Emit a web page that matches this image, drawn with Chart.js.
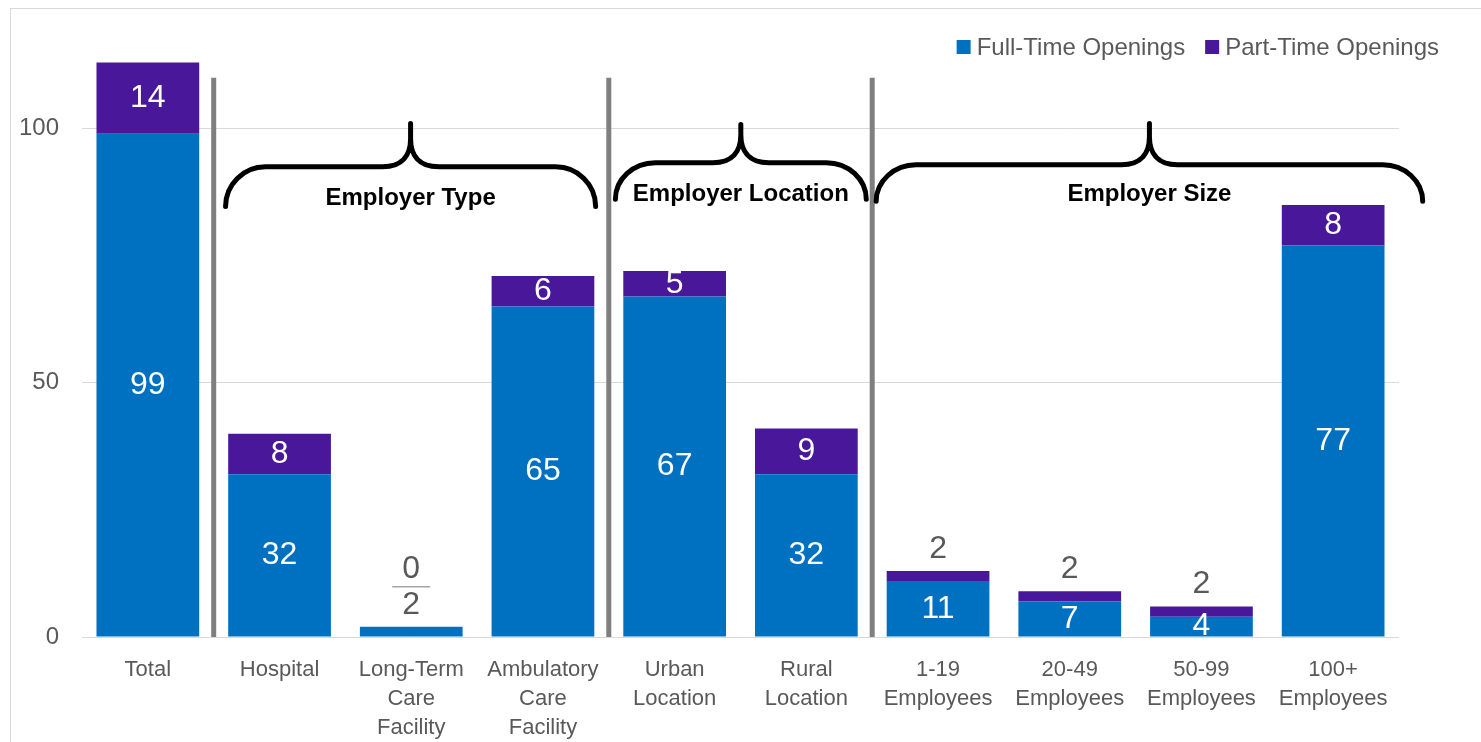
<!DOCTYPE html>
<html>
<head>
<meta charset="utf-8">
<title>Openings by employer group</title>
<script src="https://cdn.jsdelivr.net/npm/chart.js@4.4.0/dist/chart.umd.min.js"></script>
<style>
  html, body { margin: 0; padding: 0; background: #fff; overflow: hidden; }
  #frame { position: absolute; left: 10px; top: 8px; width: 1500px; height: 760px; border: 1px solid #d9d9d9; }
  #box { position: absolute; left: 0; top: 0; width: 1470px; height: 733px; }
</style>
</head>
<body>
<div id="frame"><div id="box"><canvas id="openingsChart"></canvas></div></div>
<script>
// values
const categories = [
  ["Total"], ["Hospital"], ["Long-Term", "Care", "Facility"], ["Ambulatory", "Care", "Facility"],
  ["Urban", "Location"], ["Rural", "Location"],
  ["1-19", "Employees"], ["20-49", "Employees"], ["50-99", "Employees"], ["100+", "Employees"]
];
const fullTimeOpenings = [99, 32, 2, 65, 67, 32, 11, 7, 4, 77];
const partTimeOpenings = [14, 8, 0, 6, 5, 9, 2, 2, 2, 8];
const yTicks = [0, 50, 100];

// category groups shown with a brace, and the dividers between groups
const groupNames = ["Employer Type", "Employer Location", "Employer Size"];
const groupRanges = [[1, 3], [4, 5], [6, 9]];
const dividerAfter = [0, 3, 5];

const FONT = '"Liberation Sans", Arial, sans-serif';
const GREY = '#595959';

const dividerPlugin = {
  id: 'dividers',
  beforeDatasetsDraw(chart, args, opts) {
    const { ctx, scales: { x, y } } = chart;
    ctx.save();
    ctx.strokeStyle = opts.color;
    ctx.lineWidth = opts.width;
    dividerAfter.forEach(i => {
      const px = x.getPixelForValue(i + 0.5);
      ctx.beginPath();
      ctx.moveTo(px, y.getPixelForValue(opts.top));
      ctx.lineTo(px, y.getPixelForValue(0));
      ctx.stroke();
    });
    ctx.restore();
  }
};

const bracePlugin = {
  id: 'braces',
  afterDatasetsDraw(chart, args, opts) {
    const { ctx, scales: { x, y } } = chart;
    ctx.save();
    ctx.strokeStyle = '#000';
    ctx.lineWidth = 5;
    ctx.lineCap = 'round';
    ctx.lineJoin = 'round';
    groupRanges.forEach(([from, to], g) => {
      const s = opts.shape[g];
      const x0 = x.getPixelForValue(from + s.left);
      const x1 = x.getPixelForValue(to + s.right);
      const xc = (x0 + x1) / 2;
      const tip = y.getPixelForValue(s.tip);
      const bar = y.getPixelForValue(s.bar);
      const peak = y.getPixelForValue(s.peak);
      const r = 40, k = 0.552, h = tip - bar;

      ctx.beginPath();
      ctx.moveTo(x0, tip);
      ctx.bezierCurveTo(x0, tip - k * h, x0 + r - k * r, bar, x0 + r, bar);
      ctx.lineTo(xc - 28, bar);
      ctx.bezierCurveTo(xc - 8, bar, xc, bar - 12, xc, bar - 28);
      ctx.lineTo(xc, peak);
      ctx.moveTo(xc, bar - 28);
      ctx.bezierCurveTo(xc, bar - 12, xc + 8, bar, xc + 28, bar);
      ctx.lineTo(x1 - r, bar);
      ctx.bezierCurveTo(x1 - r + k * r, bar, x1, tip - k * h, x1, tip);
      ctx.stroke();

      ctx.fillStyle = '#000';
      ctx.font = 'bold 24px ' + FONT;
      ctx.textAlign = 'center';
      ctx.textBaseline = 'alphabetic';
      ctx.fillText(groupNames[g], xc, y.getPixelForValue(s.text));
    });
    ctx.restore();
  }
};

const segmentLabelPlugin = {
  id: 'segmentLabels',
  afterDatasetsDraw(chart) {
    const { ctx, chartArea } = chart;
    const ftBars = chart.getDatasetMeta(0).data;
    const ptBars = chart.getDatasetMeta(1).data;
    ctx.save();
    ctx.font = '32px ' + FONT;
    ctx.textAlign = 'center';
    ctx.textBaseline = 'middle';
    categories.forEach((c, i) => {
      const top = ptBars[i].y;
      let stacked = 0;
      [[ftBars[i], fullTimeOpenings[i]], [ptBars[i], partTimeOpenings[i]]].forEach(([bar, v]) => {
        if (v >= 3) {
          ctx.save();
          ctx.beginPath();
          ctx.rect(chartArea.left, chartArea.top, chartArea.right - chartArea.left, chartArea.bottom - chartArea.top);
          ctx.clip();
          ctx.fillStyle = '#fff';
          ctx.fillText(String(v), bar.x, (bar.y + bar.base) / 2);
          ctx.restore();
        } else {
          const ly = top - 22 - stacked * 36;
          if (stacked > 0) {
            ctx.strokeStyle = '#a6a6a6';
            ctx.lineWidth = 1.5;
            ctx.beginPath();
            ctx.moveTo(bar.x - 19, ly + 18);
            ctx.lineTo(bar.x + 19, ly + 18);
            ctx.stroke();
          }
          ctx.fillStyle = GREY;
          ctx.fillText(String(v), bar.x, ly);
          stacked++;
        }
      });
    });
    ctx.restore();
  }
};

const legendPlugin = {
  id: 'cornerLegend',
  afterDraw(chart, args, opts) {
    const { ctx, chartArea } = chart;
    ctx.save();
    ctx.font = '24px ' + FONT;
    const items = chart.data.datasets.map(d => ({
      label: d.label, color: d.backgroundColor, w: ctx.measureText(d.label).width
    }));
    const box = 14, gap = 6, spacing = 20;
    const total = items.reduce((s, it) => s + box + gap + it.w, 0) + spacing * (items.length - 1);
    let x = chartArea.right + opts.overhang - total;
    items.forEach(it => {
      ctx.fillStyle = it.color;
      ctx.fillRect(x, opts.y - box / 2, box, box);
      x += box + gap;
      ctx.fillStyle = GREY;
      ctx.textBaseline = 'alphabetic';
      ctx.fillText(it.label, x, opts.y + 8);
      x += it.w + spacing;
    });
    ctx.restore();
  }
};

const ctx = document.getElementById('openingsChart').getContext('2d');
new Chart(ctx, {
  type: 'bar',
  data: {
    labels: categories,
    datasets: [
      { label: 'Full-Time Openings', data: fullTimeOpenings, backgroundColor: '#0070C0' },
      { label: 'Part-Time Openings', data: partTimeOpenings, backgroundColor: '#48179A' }
    ]
  },
  options: {
    responsive: true,
    maintainAspectRatio: false,
    animation: false,
    layout: { padding: { top: 18, right: 82, left: 0, bottom: 0 } },
    datasets: { bar: { categoryPercentage: 1, barPercentage: 0.78, borderWidth: 0 } },
    plugins: {
      legend: { display: false },
      tooltip: { enabled: false },
      dividers: { top: 110, width: 5, color: '#7f7f7f' },
      braces: {
        shape: [
          { left: -0.41, right: 0.40, tip: 84.7, bar: 92.5, peak: 101, text: 84.9 },
          { left: -0.45, right: 0.455, tip: 86.1, bar: 93.3, peak: 100.8, text: 85.7 },
          { left: -0.47, right: 0.68, tip: 85.7, bar: 92.9, peak: 101, text: 85.7 }
        ]
      },
      cornerLegend: { overhang: 40, y: 38 }
    },
    scales: {
      x: {
        stacked: true,
        grid: { display: false, drawTicks: false },
        border: { display: false },
        ticks: {
          color: GREY, font: { family: FONT, size: 22, lineHeight: 1.3 },
          padding: 19, maxRotation: 0, autoSkip: false
        },
        afterFit(scale) {
          scale.height = 105;
          scale.paddingLeft = 0;
          scale.paddingRight = 0;
        }
      },
      y: {
        stacked: true,
        min: 0,
        max: 120,
        afterBuildTicks(scale) { scale.ticks = yTicks.map(v => ({ value: v })); },
        grid: { color: '#d9d9d9', lineWidth: 1, drawTicks: false },
        border: { display: false },
        ticks: { color: GREY, font: { family: FONT, size: 24 }, padding: 23 },
        afterFit(scale) {
          scale.width = 71;
          scale.paddingTop = 0;
          scale.paddingBottom = 0;
        }
      }
    }
  },
  plugins: [dividerPlugin, bracePlugin, segmentLabelPlugin, legendPlugin]
});
</script>
</body>
</html>
